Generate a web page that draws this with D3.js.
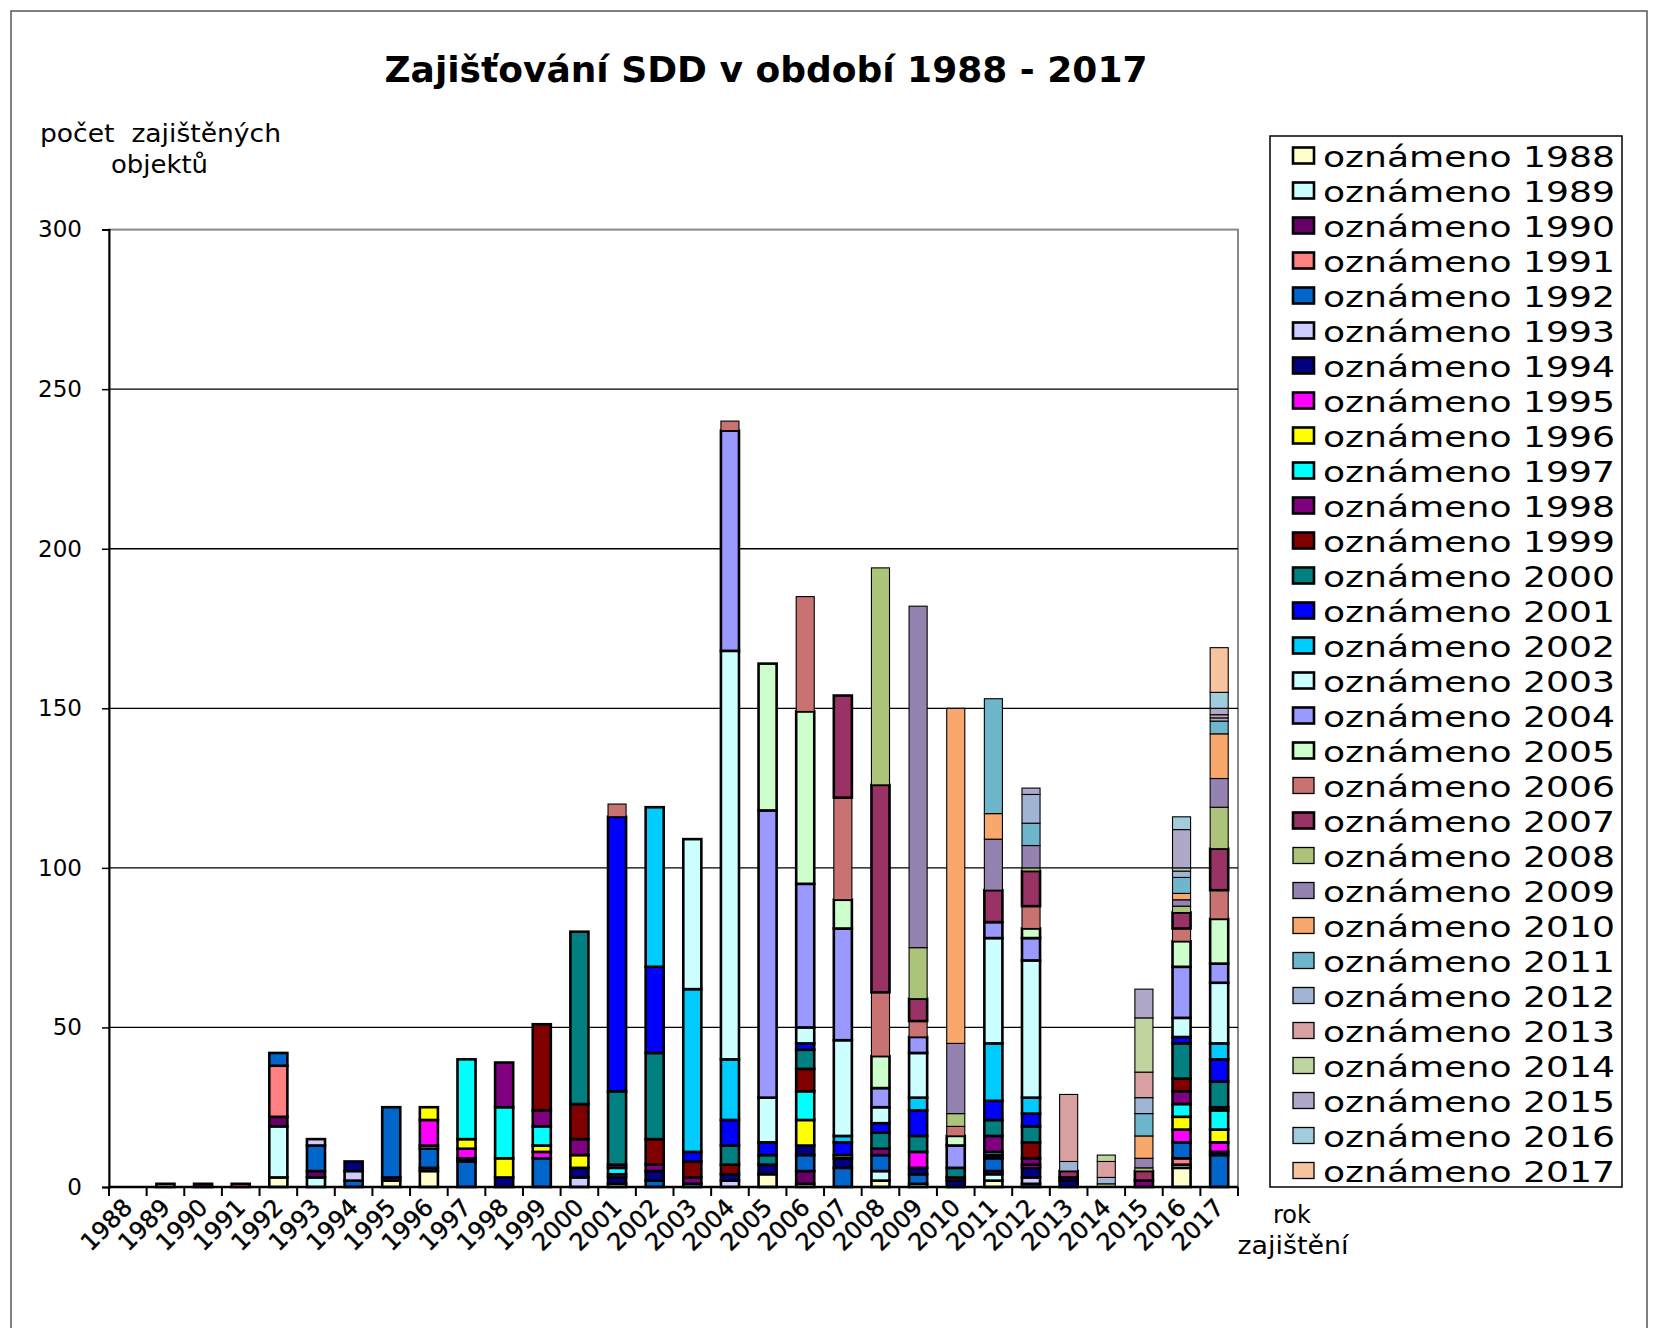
<!DOCTYPE html>
<html>
<head>
<meta charset="utf-8">
<script src="https://cdn.jsdelivr.net/npm/d3@7"></script>
<style>
  body { margin: 0; background: #fff; }
  text { font-family: "DejaVu Sans", Verdana, sans-serif; fill: #000; }
</style>
</head>
<body>
<script>
//Categories: year of securing (x axis) and year of reporting (series).
const securedYears = d3.range(1988, 2018);
const reportedYears = d3.range(1988, 2018);
const yTicks = [0, 50, 100, 150, 200, 250, 300];

//Series colours, one per reported year.
const seriesColors = ["#ffffcc", "#ccffff", "#660066", "#ff8080", "#0066cc", "#ccccff", "#000080", "#ff00ff",
    "#ffff00", "#00ffff", "#800080", "#800000", "#008080", "#0000ff", "#00ccff", "#ccffff",
    "#9999ff", "#ccffcc", "#c87272", "#993366", "#acc47a", "#9482b0", "#f8a86c", "#6eb6cc",
    "#a0b4d4", "#d8a0a0", "#c0d4a0", "#b0a8c8", "#a0ccdc", "#f8c4a0"];

//Values per secured year: [reported year, count].
const s1988 = [];
const s1989 = [[1989, 1]];
const s1990 = [[1990, 1]];
const s1991 = [[1991, 1]];
const s1992 = [[1988, 3], [1989, 16], [1990, 3], [1991, 16], [1992, 4]];
const s1993 = [[1989, 3], [1990, 2], [1992, 8], [1993, 2]];
const s1994 = [[1992, 2], [1993, 3], [1994, 3]];
const s1995 = [[1988, 2], [1990, 1], [1992, 22]];
const s1996 = [[1988, 5], [1990, 1], [1992, 6], [1993, 1], [1995, 8], [1996, 4]];
const s1997 = [[1992, 8], [1994, 1], [1995, 3], [1996, 3], [1997, 25]];
const s1998 = [[1994, 3], [1996, 6], [1997, 16], [1998, 14]];
const s1999 = [[1992, 9], [1995, 2], [1996, 2], [1997, 6], [1998, 5], [1999, 27]];
const s2000 = [[1993, 3], [1994, 3], [1996, 4], [1998, 5], [1999, 11], [2000, 54]];
const s2001 = [[1989, 1], [1994, 2], [1995, 1], [1997, 2], [1998, 1], [2000, 23], [2001, 86], [2006, 4]];
const s2002 = [[1992, 2], [1994, 3], [1998, 2], [1999, 8], [2000, 27], [2001, 27], [2002, 50]];
const s2003 = [[1997, 1], [1998, 2], [1999, 5], [2001, 3], [2002, 51], [2003, 47]];
const s2004 = [[1993, 2], [1994, 2], [1999, 3], [2000, 6], [2001, 8], [2002, 19], [2003, 128], [2004, 69], [2006, 3]];
const s2005 = [[1988, 4], [1994, 3], [2000, 3], [2001, 4], [2003, 14], [2004, 90], [2005, 46]];
const s2006 = [[1988, 1], [1990, 4], [1992, 5], [1994, 3], [1996, 8], [1997, 9], [1999, 7], [2000, 6], [2001, 2],
    [2003, 5], [2004, 45], [2005, 54], [2006, 36]];
const s2007 = [[1992, 6], [1994, 3], [1996, 1], [2001, 4], [2002, 2], [2003, 30], [2004, 35], [2005, 9], [2006, 32], [2007, 32]];
const s2008 = [[1988, 2], [1989, 3], [1992, 5], [1998, 2], [2000, 5], [2001, 3], [2003, 5], [2004, 6], [2005, 10],
    [2006, 20], [2007, 65], [2008, 68]];
const s2009 = [[1989, 1], [1992, 3], [1994, 2], [1995, 5], [2000, 5], [2001, 8], [2002, 4], [2003, 14], [2004, 5],
    [2006, 5], [2007, 7], [2008, 16], [2009, 107]];
const s2010 = [[1994, 2], [1998, 1], [2000, 3], [2004, 7], [2005, 3], [2006, 3], [2008, 4], [2009, 22], [2010, 105]];
const s2011 = [[1988, 2], [1989, 2], [1990, 1], [1992, 4], [1994, 1], [1997, 1], [1998, 5], [2000, 5], [2001, 6],
    [2002, 18], [2003, 33], [2004, 5], [2007, 10], [2009, 16], [2010, 8], [2011, 36]];
const s2012 = [[1992, 1], [1993, 2], [1994, 3], [1995, 1], [1998, 2], [1999, 5], [2000, 5], [2001, 4], [2002, 5],
    [2003, 43], [2004, 7], [2005, 3], [2006, 7], [2007, 11], [2008, 1], [2009, 7], [2011, 7], [2012, 9], [2015, 2]];
const s2013 = [[1994, 2], [2001, 1], [2007, 2], [2012, 3], [2013, 21]];
const s2014 = [[2008, 1], [2012, 2], [2013, 5], [2014, 2]];
const s2015 = [[1998, 2], [2007, 3], [2008, 1], [2009, 3], [2010, 7], [2011, 7], [2012, 5], [2013, 8], [2014, 17], [2015, 9]];
const s2016 = [[1988, 6], [1989, 1], [1991, 2], [1992, 5], [1995, 4], [1996, 4], [1997, 4], [1998, 4], [1999, 4],
    [2000, 11], [2001, 2], [2003, 6], [2004, 16], [2005, 8], [2006, 4], [2007, 5], [2008, 2], [2009, 2],
    [2010, 2], [2011, 5], [2012, 2], [2014, 1], [2015, 12], [2016, 4]];
const s2017 = [[1992, 10], [1994, 1], [1995, 3], [1996, 4], [1997, 6], [1999, 1], [2000, 8], [2001, 7], [2002, 5],
    [2003, 19], [2004, 6], [2005, 14], [2006, 9], [2007, 13], [2008, 13], [2009, 9], [2010, 14], [2011, 4],
    [2012, 1], [2013, 1], [2015, 2], [2016, 5], [2017, 14]];

const barValues = [s1988, s1989, s1990, s1991, s1992, s1993, s1994, s1995, s1996, s1997, s1998, s1999, s2000,
    s2001, s2002, s2003, s2004, s2005, s2006, s2007, s2008, s2009, s2010, s2011, s2012, s2013, s2014,
    s2015, s2016, s2017];

//Build the table d3.stack wants: one row per secured year, one column per reported year.
const table = securedYears.map((y, i) => {
    let row = {year: y};
    reportedYears.forEach(r => row[r] = 0);
    barValues[i].forEach(([r, v]) => row[r] = v);
    return row;
});

const width = 1659;
const height = 1328;
const plot = {left: 109, right: 1238, top: 229.6, bottom: 1187};

const svg = d3.select("body").append("svg").attr("width", width).attr("height", height);

//Outer frame.
svg.append("rect").attr("x", 11).attr("y", 11).attr("width", 1636).attr("height", 1340)
    .attr("fill", "none").attr("stroke", "#555").attr("stroke-width", 1.5);

const x = d3.scaleBand().domain(securedYears).range([plot.left, plot.right]).paddingInner(0.52).paddingOuter(0.26);
const y = d3.scaleLinear().domain([0, 300]).range([plot.bottom, plot.top]);

//Plot area border (grey top and right).
svg.append("rect").attr("x", plot.left).attr("y", plot.top).attr("width", plot.right - plot.left)
    .attr("height", plot.bottom - plot.top).attr("fill", "none").attr("stroke", "#888").attr("stroke-width", 2);

//Gridlines.
svg.append("g").selectAll("line").data(yTicks.filter(t => t > 0 && t < 300)).enter().append("line")
    .attr("x1", plot.left).attr("x2", plot.right)
    .attr("y1", d => y(d)).attr("y2", d => y(d))
    .attr("stroke", "#000").attr("stroke-width", 1.3);

//Stacked bars.
const stack = d3.stack().keys(reportedYears);
const layers = stack(table);
const heavy = r => r <= 2005 || r === 2007;

svg.append("g").selectAll("g").data(layers).enter().append("g")
    .attr("fill", (d, i) => seriesColors[i])
    .attr("stroke", "#000")
    .attr("stroke-width", d => heavy(d.key) ? 2.6 : 1.1)
    .selectAll("rect")
    .data(d => d.filter(s => s[1] - s[0] > 0))
    .enter().append("rect")
    .attr("x", d => x(d.data.year))
    .attr("width", x.bandwidth())
    .attr("y", d => y(d[1]))
    .attr("height", d => y(d[0]) - y(d[1]));

//Y axis.
const yAxis = d3.axisLeft(y).tickValues(yTicks).tickSize(7).tickPadding(20);
const gy = svg.append("g").attr("transform", "translate(" + plot.left + ",0)").call(yAxis);
gy.select(".domain").attr("stroke", "#000").attr("stroke-width", 2);
gy.selectAll(".tick line").attr("stroke", "#000").attr("stroke-width", 1.5);
gy.selectAll("text").attr("font-size", 23).attr("font-family", "DejaVu Sans");

//X axis: ticks between categories, labels rotated.
const gx = svg.append("g").attr("transform", "translate(0," + plot.bottom + ")");
gx.append("line").attr("x1", plot.left).attr("x2", plot.right).attr("stroke", "#000").attr("stroke-width", 2.5);
const step = x.step();
gx.selectAll(".sep").data(securedYears).enter().append("line")
    .attr("x1", d => x(d) + x.bandwidth() / 2 - step / 2)
    .attr("x2", d => x(d) + x.bandwidth() / 2 - step / 2)
    .attr("y1", 0).attr("y2", 9).attr("stroke", "#000").attr("stroke-width", 2);
gx.append("line").attr("x1", plot.right).attr("x2", plot.right).attr("y1", 0).attr("y2", 9)
    .attr("stroke", "#000").attr("stroke-width", 2);
gx.selectAll(".lbl").data(securedYears).enter().append("text")
    .attr("transform", d => "translate(" + (x(d) + x.bandwidth() / 2 + 6) + ",22) rotate(-45)")
    .attr("text-anchor", "end")
    .attr("font-size", 24)
    .attr("stroke", "#000").attr("stroke-width", 0.4)
    .text(d => d);

//Title and axis labels.
svg.append("text").attr("x", 766).attr("y", 82).attr("text-anchor", "middle")
    .attr("font-size", 36).attr("font-weight", "bold").text("Zajišťování SDD v období 1988 - 2017");
svg.append("text").attr("x", 40).attr("y", 142).attr("font-size", 24).style("white-space", "pre")
    .attr("textLength", 241).attr("lengthAdjust", "spacingAndGlyphs")
    .text("počet  zajištěných");
svg.append("text").attr("x", 111).attr("y", 173).attr("font-size", 24)
    .attr("textLength", 97).attr("lengthAdjust", "spacingAndGlyphs").text("objektů");
svg.append("text").attr("x", 1292).attr("y", 1223).attr("text-anchor", "middle").attr("font-size", 24).text("rok");
svg.append("text").attr("x", 1293).attr("y", 1254).attr("text-anchor", "middle").attr("font-size", 24)
    .attr("textLength", 111).attr("lengthAdjust", "spacingAndGlyphs").text("zajištění");

//Legend.
const legend = svg.append("g");
legend.append("rect").attr("x", 1270).attr("y", 136).attr("width", 352).attr("height", 1051)
    .attr("fill", "#fff").attr("stroke", "#000").attr("stroke-width", 1.5);
const item = legend.selectAll(".item").data(reportedYears).enter().append("g")
    .attr("transform", (d, i) => "translate(1293," + (155.5 + i * 35) + ")");
item.append("rect").attr("x", 0).attr("y", -8).attr("width", 21).attr("height", 16)
    .attr("fill", (d, i) => seriesColors[i]).attr("stroke", "#000")
    .attr("stroke-width", d => heavy(d) ? 2.6 : 1.3);
item.append("text").attr("x", 30).attr("y", 11).attr("font-size", 29)
    .attr("textLength", 292).attr("lengthAdjust", "spacingAndGlyphs")
    .text(d => "oznámeno " + d);
</script>
</body>
</html>
